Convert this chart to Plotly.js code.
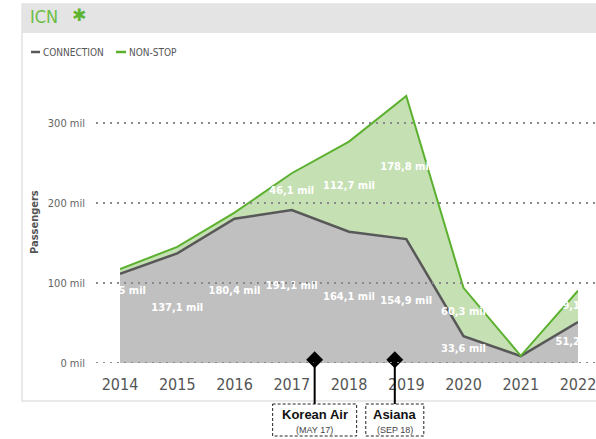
<!DOCTYPE html>
<html>
<head>
<meta charset="utf-8">
<script src="https://cdn.plot.ly/plotly-3.0.1.min.js"></script>
<style>
  html, body { margin: 0; padding: 0; background: #ffffff; overflow: hidden; }
  #chart { width: 596px; height: 439px; }
</style>
</head>
<body>
<div id="chart"></div>
<script>
// ---- data ----
const years = [2014, 2015, 2016, 2017, 2018, 2019, 2020, 2021, 2022];
const yearLabels = ['2014', '2015', '2016', '2017', '2018', '2019', '2020', '2021', '2022'];
const connection = [111.5, 137.1, 180.4, 191.1, 164.1, 154.9, 33.6, 8.6, 51.2];
const nonStop = [6.0, 8.0, 7.5, 46.1, 112.7, 178.8, 60.3, 0.4, 39.1];
const yTickValues = [0, 100, 200, 300];
const yTickLabels = ['0 mil', '100 mil', '200 mil', '300 mil'];
const eventNames = ['Korean Air', 'Asiana'];
const eventDates = ['(MAY 17)', '(SEP 18)'];
const eventX = [2017.4, 2018.8];

// ---- layout geometry (pixels) ----
const W = 596, H = 439;
const mL = 120, mR = 18, mT = 85, mB = 76;
const plotW = W - mL - mR, plotH = H - mT - mB;
const px = v => (v - mL) / plotW;          // pixel x -> paper
const py = v => (H - mB - v) / plotH;       // pixel y -> paper
const xRange = [years[0], years[years.length - 1]];
const xToPaper = x => (x - xRange[0]) / (xRange[1] - xRange[0]);

const FONT = "'DejaVu Sans Condensed', 'Roboto', sans-serif";
const fmt = v => v.toFixed(1).replace('.', ',') + ' mil';
const MIN_LABEL = 20;

// label positions: middle of each band
const connLabelY = connection.map((v, i) => i === 0 ? v * 0.8 : v / 2);
const connLabelText = connection.map(v => v >= MIN_LABEL ? fmt(v) : '');
const nsLabelY = nonStop.map((v, i) => connection[i] + v / 2);
const nsLabelText = nonStop.map(v => v >= MIN_LABEL ? fmt(v) : '');

const traces = [
  {
    x: years, y: connection, type: 'scatter', mode: 'lines',
    stackgroup: 'one', fillcolor: '#c0c0c0',
    line: { color: '#585858', width: 2.5 }, hoverinfo: 'skip', name: 'CONNECTION'
  },
  {
    x: years, y: nonStop, type: 'scatter', mode: 'lines',
    stackgroup: 'one', fillcolor: '#c5e0b3',
    line: { color: '#5bb12f', width: 2 }, hoverinfo: 'skip', name: 'NON-STOP'
  },
  {
    x: years, y: connLabelY, text: connLabelText, type: 'scatter', mode: 'text',
    textfont: { family: FONT, size: 11, color: '#ffffff', weight: 600 }, cliponaxis: true, hoverinfo: 'skip'
  },
  {
    x: years, y: nsLabelY, text: nsLabelText, type: 'scatter', mode: 'text',
    textfont: { family: FONT, size: 11, color: '#ffffff', weight: 600 }, cliponaxis: true, hoverinfo: 'skip'
  },
  {
    x: eventX, y: eventX.map(() => 4), type: 'scatter', mode: 'markers',
    marker: { symbol: 'diamond', size: 13, color: '#000000' }, cliponaxis: false, hoverinfo: 'skip'
  }
];

const shapes = [];
// card border and header band
shapes.push({ type: 'rect', xref: 'paper', yref: 'paper', x0: px(22), x1: px(604), y0: py(4), y1: py(401),
  line: { color: '#e2e2e2', width: 1.5 }, fillcolor: 'rgba(0,0,0,0)', layer: 'below' });
shapes.push({ type: 'rect', xref: 'paper', yref: 'paper', x0: px(22), x1: px(604), y0: py(4), y1: py(33),
  line: { width: 0 }, fillcolor: '#e4e4e4', layer: 'below' });
// dotted gridlines
yTickValues.forEach(v => shapes.push({
  type: 'line', xref: 'paper', yref: 'y', x0: px(96), x1: px(604), y0: v, y1: v,
  line: { color: '#8a8a8a', width: 2, dash: '2px,5px' }, layer: 'above'
}));
// legend swatches
shapes.push({ type: 'line', xref: 'paper', yref: 'paper', x0: px(31), x1: px(40), y0: py(52), y1: py(52),
  line: { color: '#585858', width: 2.5 } });
shapes.push({ type: 'line', xref: 'paper', yref: 'paper', x0: px(116), x1: px(126), y0: py(52), y1: py(52),
  line: { color: '#5bb12f', width: 2.5 } });
// event markers
const boxHalf = [42, 29];
eventX.forEach((x, i) => {
  const xp = xToPaper(x);
  shapes.push({ type: 'line', xref: 'paper', yref: 'paper',
    x0: xp, x1: xp, y0: py(360), y1: py(404), line: { color: '#000000', width: 2 } });
  shapes.push({ type: 'rect', xref: 'paper', yref: 'paper',
    x0: xp - boxHalf[i] / plotW, x1: xp + boxHalf[i] / plotW, y0: py(404), y1: py(436),
    line: { color: '#222222', width: 1, dash: '3px,2px' }, fillcolor: 'rgba(0,0,0,0)' });
});

const annotations = [
  { text: 'ICN', xref: 'paper', yref: 'paper', x: px(28), y: py(17), xanchor: 'left', yanchor: 'middle',
    showarrow: false, font: { family: FONT, size: 18, color: '#6dbd45' } },
  { text: '✱', xref: 'paper', yref: 'paper', x: px(79), y: py(15), xanchor: 'center', yanchor: 'middle',
    showarrow: false, font: { family: 'DejaVu Sans', size: 17, color: '#5cb531' } },
  { text: 'CONNECTION', xref: 'paper', yref: 'paper', x: px(41), y: py(52), xanchor: 'left', yanchor: 'middle',
    showarrow: false, font: { family: FONT, size: 10, color: '#555555' } },
  { text: 'NON-STOP', xref: 'paper', yref: 'paper', x: px(127), y: py(52), xanchor: 'left', yanchor: 'middle',
    showarrow: false, font: { family: FONT, size: 10, color: '#555555' } },
  { text: 'Passengers', xref: 'paper', yref: 'paper', x: px(34), y: py(222), xanchor: 'center', yanchor: 'middle',
    textangle: -90, showarrow: false, font: { family: FONT, size: 11, color: '#555555', weight: 600 } }
];
eventX.forEach((x, i) => {
  annotations.push({ text: eventNames[i], xref: 'x', yref: 'paper', x: x, y: py(414),
    xanchor: 'center', yanchor: 'middle', showarrow: false,
    font: { family: "'Liberation Sans', Arial, sans-serif", size: 13, color: '#111111', weight: 700 } });
  annotations.push({ text: eventDates[i], xref: 'x', yref: 'paper', x: x, y: py(430),
    xanchor: 'center', yanchor: 'middle', showarrow: false,
    font: { family: "'Liberation Sans', Arial, sans-serif", size: 9, color: '#444444' } });
});

const layout = {
  width: W, height: H,
  margin: { l: mL, r: mR, t: mT, b: mB, pad: 0 },
  paper_bgcolor: '#ffffff', plot_bgcolor: 'rgba(0,0,0,0)',
  showlegend: false,
  xaxis: {
    range: xRange, tickvals: years, ticktext: yearLabels,
    showgrid: false, zeroline: false, showline: false, ticks: '',
    tickfont: { family: FONT, size: 16, color: '#555555', weight: 500 }, ticklabelstandoff: 10,
    ticklabeloverflow: 'allow', fixedrange: true
  },
  yaxis: {
    range: [0, plotH / 0.8], tickvals: yTickValues, ticktext: yTickLabels,
    showgrid: false, zeroline: false, showline: false, ticks: '',
    tickfont: { family: FONT, size: 11, color: '#666666' }, ticklabelstandoff: 34, fixedrange: true
  },
  shapes: shapes,
  annotations: annotations
};

Plotly.newPlot('chart', traces, layout, { displayModeBar: false, staticPlot: true });
</script>
</body>
</html>
